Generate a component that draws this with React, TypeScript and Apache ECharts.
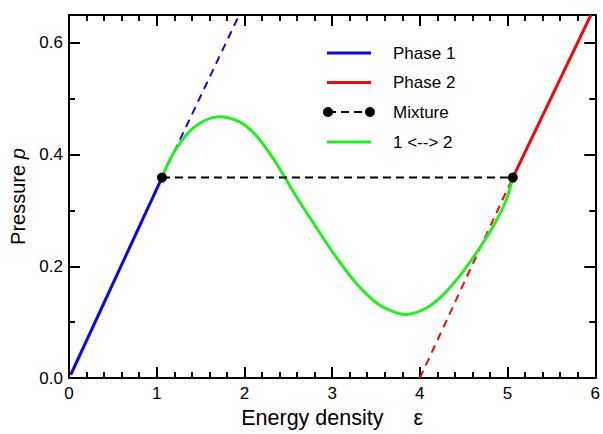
import React, { useEffect, useRef } from "react";
import * as echarts from "echarts";

// ---- data ----
const xTicks = [0, 1, 2, 3, 4, 5, 6];
const yMajorTicks = [0, 0.2, 0.4, 0.6];
const yMinorTicks = [0.1, 0.3, 0.5];

const phase1Solid: number[][] = [
  [0.02, 0.006],
  [1.06, 0.359],
];
const phase1Dashed: number[][] = [
  [1.06, 0.359],
  [1.94, 0.65],
];
const phase2Dashed: number[][] = [
  [4.0, 0.0],
  [5.06, 0.359],
];
const phase2Solid: number[][] = [
  [5.06, 0.359],
  [5.95, 0.65],
];
const mixture: number[][] = [
  [1.06, 0.359],
  [5.06, 0.359],
];
const transition: number[][] = [
  [1.06, 0.359],
  [1.18, 0.4],
  [1.37, 0.441],
  [1.56, 0.462],
  [1.71, 0.468],
  [1.94, 0.459],
  [2.13, 0.435],
  [2.32, 0.395],
  [2.45, 0.362],
  [2.62, 0.318],
  [2.81, 0.272],
  [3.0, 0.227],
  [3.19, 0.186],
  [3.38, 0.152],
  [3.57, 0.128],
  [3.84, 0.114],
  [4.07, 0.125],
  [4.26, 0.148],
  [4.45, 0.182],
  [4.64, 0.223],
  [4.83, 0.27],
  [4.98, 0.317],
  [5.06, 0.359],
];

const legendNames = ["Phase 1", "Phase 2", "Mixture", "1 <--> 2"];

const BLUE = "#0a0ae0";
const RED = "#ee0a0a";
const GREEN = "#22ee22";
const BLACK = "#000000";
const FONT = '"Liberation Sans", Arial, Helvetica, sans-serif';

export default function App() {
  const ref = useRef<HTMLDivElement>(null);

  useEffect(() => {
    if (!ref.current) return;
    const chart = echarts.init(ref.current, undefined, { renderer: "svg" });

    const axisLine = { show: true, onZero: false, lineStyle: { color: BLACK, width: 2 } };
    const noLine = { show: false, onZero: false };
    const majorTick = { show: true, inside: true, length: 11, lineStyle: { color: BLACK, width: 2 } };
    const minorTick = { show: true, splitNumber: 5, length: 6, lineStyle: { color: BLACK, width: 2 } };
    const labelStyle = { color: BLACK, fontSize: 17, fontFamily: FONT };

    const xBase = {
      type: "value" as const,
      min: xTicks[0],
      max: xTicks[xTicks.length - 1],
      interval: 1,
      axisLine,
      axisTick: majorTick,
      minorTick,
      splitLine: { show: false },
      minorSplitLine: { show: false },
    };

    const yBase = {
      type: "value" as const,
      min: 0,
      max: 0.65,
      splitLine: { show: false },
    };

    const legendRowsY = [53, 82.5, 112, 142];
    const legendColors = [BLUE, RED, BLACK, GREEN];
    const legendGraphics: any[] = [];
    legendNames.forEach((name, i) => {
      const y = legendRowsY[i];
      if (name === "Mixture") {
        legendGraphics.push({
          type: "line",
          shape: { x1: 328, y1: y, x2: 370, y2: y },
          style: { stroke: BLACK, lineWidth: 2, lineDash: [8, 5] },
        });
        legendGraphics.push({ type: "circle", shape: { cx: 328, cy: y, r: 5 }, style: { fill: BLACK } });
        legendGraphics.push({ type: "circle", shape: { cx: 370, cy: y, r: 5 }, style: { fill: BLACK } });
      } else {
        legendGraphics.push({
          type: "line",
          shape: { x1: 327, y1: y, x2: 371, y2: y },
          style: { stroke: legendColors[i], lineWidth: 3 },
        });
      }
      legendGraphics.push({
        type: "text",
        x: 393,
        y: y,
        style: {
          text: name,
          fill: BLACK,
          font: `17px ${FONT}`,
          verticalAlign: "middle",
          align: "left",
        },
      });
    });

    chart.setOption({
      animation: false,
      backgroundColor: "#ffffff",
      grid: { left: 69, right: 7, top: 15, bottom: 51, containLabel: false },
      xAxis: [
        {
          ...xBase,
          position: "bottom",
          axisLabel: { ...labelStyle, margin: 7 },
          name: "Energy density{e|ε}",
          nameLocation: "middle",
          nameGap: 8,
          nameTextStyle: {
            color: BLACK,
            fontSize: 21.5,
            fontFamily: FONT,
            verticalAlign: "top",
            rich: { e: { fontSize: 21.5, fontFamily: FONT, color: BLACK, padding: [0, 0, 0, 30] } },
          },
        },
        {
          ...xBase,
          position: "top",
          axisLabel: { show: false },
        },
      ],
      yAxis: [
        {
          ...yBase,
          position: "left",
          axisLine,
          axisTick: { ...majorTick, customValues: yMajorTicks },
          axisLabel: {
            ...labelStyle,
            margin: 6,
            customValues: yMajorTicks,
            formatter: (v: number) => v.toFixed(1),
          },
          name: "Pressure {p|p}",
          nameLocation: "middle",
          nameGap: 38,
          nameTextStyle: {
            color: BLACK,
            fontSize: 20,
            fontFamily: FONT,
            rich: { p: { fontSize: 20, fontFamily: FONT, fontStyle: "italic", color: BLACK } },
          },
        },
        {
          ...yBase,
          position: "left",
          axisLine: noLine,
          axisTick: { show: true, inside: true, length: 6, lineStyle: { color: BLACK, width: 2 }, customValues: yMinorTicks },
          axisLabel: { show: false },
        },
        {
          ...yBase,
          position: "right",
          axisLine,
          axisTick: { ...majorTick, customValues: yMajorTicks },
          axisLabel: { show: false },
        },
        {
          ...yBase,
          position: "right",
          axisLine: noLine,
          axisTick: { show: true, inside: true, length: 6, lineStyle: { color: BLACK, width: 2 }, customValues: yMinorTicks },
          axisLabel: { show: false },
        },
      ],
      series: [
        {
          name: "Phase 1",
          type: "line",
          data: phase1Solid,
          symbol: "none",
          lineStyle: { color: BLUE, width: 3 },
          itemStyle: { color: BLUE },
          z: 2,
        },
        {
          name: "Phase 1 (extension)",
          type: "line",
          data: phase1Dashed,
          symbol: "none",
          lineStyle: { color: BLUE, width: 2, type: [8, 6] },
          itemStyle: { color: BLUE },
          z: 2,
        },
        {
          name: "Phase 2 (extension)",
          type: "line",
          data: phase2Dashed,
          symbol: "none",
          lineStyle: { color: RED, width: 2, type: [8, 6] },
          itemStyle: { color: RED },
          z: 2,
        },
        {
          name: "Phase 2",
          type: "line",
          data: phase2Solid,
          symbol: "none",
          lineStyle: { color: RED, width: 3 },
          itemStyle: { color: RED },
          z: 2,
        },
        {
          name: "1 <--> 2",
          type: "line",
          data: transition,
          symbol: "none",
          smooth: 0.3,
          lineStyle: { color: GREEN, width: 3 },
          itemStyle: { color: GREEN },
          z: 3,
        },
        {
          name: "Mixture",
          type: "line",
          data: mixture,
          symbol: "circle",
          symbolSize: 10,
          lineStyle: { color: BLACK, width: 2, type: [8, 5] },
          itemStyle: { color: BLACK },
          z: 4,
        },
      ],
      graphic: legendGraphics,
    });

    return () => {
      chart.dispose();
    };
  }, []);

  return (
    <div
      ref={ref}
      style={{ position: "fixed", left: 0, top: 0, width: 603, height: 434, background: "#fff" }}
    />
  );
}
